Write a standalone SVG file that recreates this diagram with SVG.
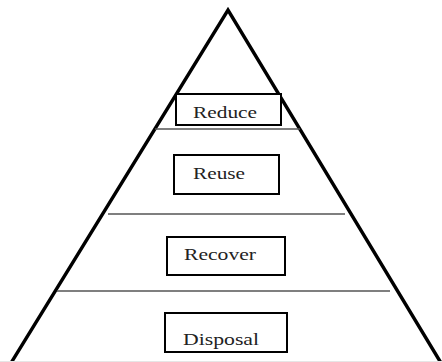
<svg xmlns="http://www.w3.org/2000/svg" width="442" height="362" viewBox="0 0 442 362">
<style>
.tri{fill:none;stroke:#000;stroke-width:3.4;stroke-linejoin:miter}
.sep{stroke:#555;stroke-width:1.6}
.box{fill:#fff;stroke:#000;stroke-width:2}
.lbl{font-family:'Liberation Serif','DejaVu Serif',serif;font-size:17px;fill:#222}
</style>
<rect width="442" height="362" fill="#fff"/>
<g id="connectors">
<path class="tri" d="M11,363 L228,10 L441,363"/>
<line x1="0" y1="361.5" x2="442" y2="361.5" stroke="#e6e6e6" stroke-width="1"/>
<line class="sep" x1="155" y1="129" x2="300" y2="129"/>
<line class="sep" x1="108" y1="214" x2="345" y2="214"/>
<line class="sep" x1="57" y1="291" x2="390" y2="291"/>
</g>
<g id="reduce">
<rect class="box" x="176" y="94" width="105" height="31"/>
<text class="lbl" x="193" y="118" textLength="64" lengthAdjust="spacingAndGlyphs">Reduce</text>
</g>
<g id="reuse">
<rect class="box" x="174" y="155" width="105" height="39"/>
<text class="lbl" x="193" y="179" textLength="52" lengthAdjust="spacingAndGlyphs">Reuse</text>
</g>
<g id="recover">
<rect class="box" x="167" y="237" width="118" height="38"/>
<text class="lbl" x="184" y="260" textLength="72" lengthAdjust="spacingAndGlyphs">Recover</text>
</g>
<g id="disposal">
<rect class="box" x="165" y="313" width="122" height="39"/>
<text class="lbl" x="183" y="345" textLength="76" lengthAdjust="spacingAndGlyphs">Disposal</text>
</g>
</svg>
